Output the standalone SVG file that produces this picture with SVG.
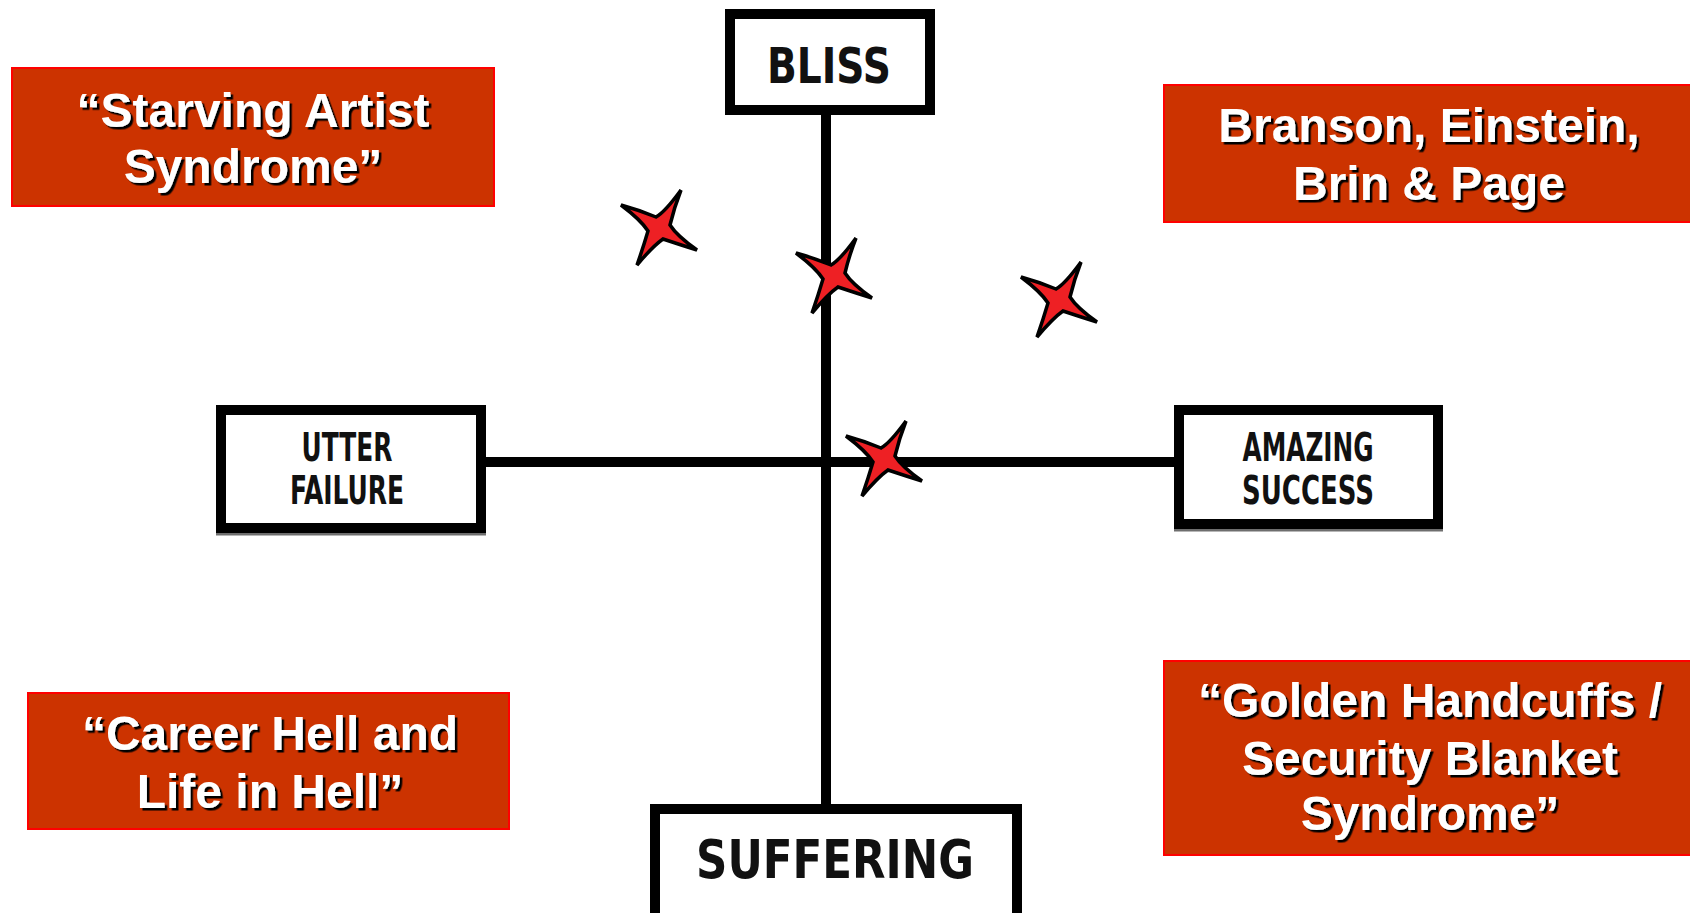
<svg xmlns="http://www.w3.org/2000/svg" width="1690" height="913" viewBox="0 0 1690 913">
  <style>
    .callout { fill: #CC3300; stroke: #FF0000; stroke-width: 2; }
    .callout-text { font-family: "Liberation Sans", Arial, sans-serif; font-weight: bold; font-size: 48px; fill: #FFFFFF; text-anchor: middle; filter: url(#shadow); }
    .frame { fill: #FFFFFF; stroke: #000000; stroke-width: 10; }
    .frame-shade { fill: none; stroke: #6E6E6E; stroke-width: 3; }
    .axis { stroke: #000000; stroke-width: 10; fill: none; }
    .pole { font-family: "DejaVu Sans", "Liberation Sans", sans-serif; font-weight: bold; fill: #111111; text-anchor: middle; }
    .side { font-family: "Liberation Sans Narrow", "DejaVu Sans Condensed", "Liberation Sans", sans-serif; font-weight: bold; font-size: 39px; fill: #111111; text-anchor: middle; }
    .star { fill: #EE2024; stroke: #000000; stroke-width: 3.5; stroke-linejoin: miter; }
  </style>
  <defs>
    <filter id="shadow" x="-10%" y="-20%" width="120%" height="150%">
      <feDropShadow dx="2.5" dy="2.5" stdDeviation="0.6" flood-color="#000000" flood-opacity="1"/>
    </filter>
    <!-- four-pointed marker, arms slightly pinched toward the tips -->
    <path id="star4" d="M22,-38 Q6,-16 -3,-11 Q-20,-18 -38,-23 Q-18,-8 -11,3 Q-16,20 -22,37 Q-6,18 4,11 Q22,17 38,22 Q18,8 11,-3 Q15,-20 22,-38 Z"/>
  </defs>

  <rect width="1690" height="913" fill="#FFFFFF"/>

  <!-- axes -->
  <g id="connectors">
    <line class="axis" x1="826" y1="105" x2="826" y2="810"/>
    <line class="axis" x1="480" y1="462" x2="1180" y2="462"/>
  </g>

  <!-- pole boxes -->
  <g id="bliss">
    <rect class="frame" x="730" y="14" width="200" height="96" stroke-width="9"/>
    <text class="pole" x="829" y="83" font-size="49" textLength="124" lengthAdjust="spacingAndGlyphs">BLISS</text>
  </g>

  <g id="suffering">
    <rect class="frame" x="655" y="809" width="362" height="130"/>
    <text class="pole" x="835" y="878" font-size="54" textLength="278" lengthAdjust="spacingAndGlyphs">SUFFERING</text>
  </g>

  <g id="utter-failure">
    <line class="frame-shade" x1="216" y1="534" x2="486" y2="534"/>
    <rect class="frame" x="221" y="410" width="260" height="118"/>
    <text class="side" x="347" y="461" textLength="91" lengthAdjust="spacingAndGlyphs">UTTER</text>
    <text class="side" x="347" y="504" textLength="114" lengthAdjust="spacingAndGlyphs">FAILURE</text>
  </g>

  <g id="amazing-success">
    <line class="frame-shade" x1="1174" y1="530" x2="1443" y2="530"/>
    <rect class="frame" x="1179" y="410" width="259" height="114"/>
    <text class="side" x="1308" y="461" textLength="131" lengthAdjust="spacingAndGlyphs">AMAZING</text>
    <text class="side" x="1308" y="504" textLength="132" lengthAdjust="spacingAndGlyphs">SUCCESS</text>
  </g>

  <!-- quadrant callouts -->
  <g id="starving-artist">
    <rect class="callout" x="12" y="68" width="482" height="138"/>
    <text class="callout-text" x="253" y="127">“Starving Artist</text>
    <text class="callout-text" x="253" y="183">Syndrome”</text>
  </g>

  <g id="branson-einstein">
    <rect class="callout" x="1164" y="85" width="540" height="137"/>
    <text class="callout-text" x="1429" y="142">Branson, Einstein,</text>
    <text class="callout-text" x="1429" y="200">Brin &amp; Page</text>
  </g>

  <g id="career-hell">
    <rect class="callout" x="28" y="693" width="481" height="136"/>
    <text class="callout-text" x="270" y="750">“Career Hell and</text>
    <text class="callout-text" x="270" y="808">Life in Hell”</text>
  </g>

  <g id="golden-handcuffs">
    <rect class="callout" x="1164" y="661" width="540" height="194"/>
    <text class="callout-text" x="1430" y="717">“Golden Handcuffs /</text>
    <text class="callout-text" x="1430" y="775">Security Blanket</text>
    <text class="callout-text" x="1430" y="830">Syndrome”</text>
  </g>

  <!-- star markers -->
  <g id="stars">
    <use class="star" href="#star4" x="659" y="228"/>
    <use class="star" href="#star4" x="834" y="276"/>
    <use class="star" href="#star4" x="1059" y="300"/>
    <use class="star" href="#star4" x="884" y="459"/>
  </g>
</svg>
